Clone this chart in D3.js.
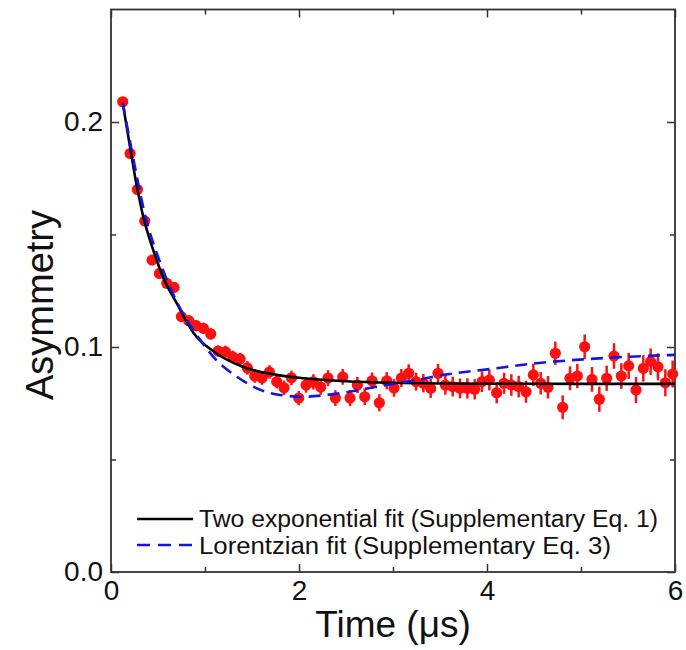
<!DOCTYPE html>
<html><head><meta charset="utf-8">
<script src="https://cdn.jsdelivr.net/npm/d3@7"></script>
<style>body{margin:0;background:#fff}svg{display:block}text{font-family:Arial,"Liberation Sans",sans-serif}</style>
</head><body>
<svg id="c" width="686" height="650"></svg>
<script>
const times = [0.125,0.203,0.281,0.359,0.437,0.515,0.593,0.671,0.749,0.827,0.905,0.983,1.061,1.139,1.217,1.295,1.373,1.451,1.529,1.607,1.685,1.763,1.841,1.919,1.997,2.075,2.153,2.231,2.309,2.387,2.465,2.543,2.621,2.699,2.777,2.855,2.933,3.011,3.089,3.167,3.245,3.323,3.401,3.479,3.557,3.635,3.713,3.791,3.869,3.947,4.025,4.103,4.181,4.259,4.337,4.415,4.493,4.571,4.649,4.727,4.805,4.883,4.961,5.039,5.117,5.195,5.273,5.351,5.429,5.507,5.585,5.663,5.741,5.819,5.897,5.975];
const asymmetry = [0.209,0.186,0.170,0.156,0.1386,0.1327,0.1283,0.1265,0.1135,0.1117,0.1095,0.1083,0.1058,0.0982,0.0979,0.0956,0.0947,0.0907,0.0871,0.0862,0.0889,0.0846,0.0819,0.0863,0.0773,0.0831,0.0845,0.0822,0.0862,0.0773,0.0867,0.0773,0.0831,0.0779,0.0850,0.0752,0.0850,0.0818,0.0862,0.0883,0.0846,0.0839,0.0816,0.0883,0.0831,0.0824,0.0816,0.0816,0.0812,0.0846,0.0853,0.0797,0.0839,0.0831,0.0824,0.0801,0.0876,0.0839,0.0821,0.0972,0.0732,0.0861,0.0871,0.1001,0.0856,0.0768,0.0861,0.0960,0.0871,0.0916,0.0809,0.0905,0.0935,0.0912,0.0841,0.0880];
const errors = [0.0015,0.0015,0.0015,0.0015,0.0018,0.0018,0.0018,0.002,0.002,0.002,0.0025,0.0025,0.0025,0.0025,0.0027,0.0027,0.0027,0.003,0.003,0.003,0.003,0.003,0.0032,0.0032,0.0032,0.0034,0.0034,0.0034,0.0035,0.0035,0.0035,0.0036,0.0036,0.0037,0.0037,0.0038,0.0038,0.0039,0.004,0.004,0.004,0.0041,0.0042,0.0042,0.0043,0.0044,0.0044,0.0045,0.0045,0.0046,0.0046,0.0047,0.0047,0.0048,0.0048,0.0049,0.005,0.005,0.005,0.0052,0.0053,0.0053,0.0054,0.0055,0.0055,0.0056,0.0056,0.0057,0.0057,0.0058,0.0058,0.0059,0.0059,0.006,0.006,0.006];

const expFitT = [0.125,0.2,0.27,0.34,0.45,0.56,0.7,0.88,1.12,1.4,1.76,2.05,2.5,3.0,3.5,4.0,5.0,6.0];
const expFitV = [0.2085,0.1895,0.1725,0.1585,0.1430,0.1305,0.1194,0.1061,0.0972,0.0912,0.0876,0.0861,0.0848,0.0841,0.0838,0.0837,0.0836,0.0836];
const lorFitT = [0.125,0.22,0.36,0.54,0.7,0.95,1.12,1.34,1.55,1.8,2.05,2.3,2.54,2.79,3.04,3.25,3.54,4.03,4.53,5.02,5.52,6.0];
const lorFitV = [0.2085,0.1875,0.159,0.1357,0.1201,0.1031,0.0942,0.0868,0.0816,0.0787,0.0779,0.0787,0.0801,0.0821,0.0839,0.0853,0.0876,0.0902,0.0928,0.0945,0.0957,0.0965];

const xMajor = [0,2,4,6], xMinor = [1,3,5];
const yMajor = [0,0.1,0.2], yMinor = [0.05,0.15];
const legendLabels = ["Two exponential fit (Supplementary Eq. 1)","Lorentzian fit (Supplementary Eq. 3)"];

const svg = d3.select("#c");
const L=111,R=675,T=9.5,B=572;
const x = d3.scaleLinear([0,6],[L,R]);
const y = d3.scaleLinear([0,0.25],[B,T]);
const axisColor="#333";

function axisG(gen, tx, ty){
  const g = svg.append("g").attr("transform",`translate(${tx},${ty})`).call(gen);
  g.select(".domain").remove();
  g.selectAll(".tick line").attr("stroke",axisColor).attr("stroke-width",1.5);
  g.selectAll("text").attr("fill","#111").style("font-size","28px");
  return g;
}
axisG(d3.axisBottom(x).tickValues(xMajor).tickSize(-8).tickPadding(8).tickFormat(d3.format("d")),0,B);
axisG(d3.axisBottom(x).tickValues(xMinor).tickSize(-5).tickFormat(""),0,B);
axisG(d3.axisTop(x).tickValues(xMajor).tickSize(-8).tickFormat(""),0,T);
axisG(d3.axisTop(x).tickValues(xMinor).tickSize(-5).tickFormat(""),0,T);
axisG(d3.axisLeft(y).tickValues(yMajor).tickSize(-8).tickPadding(8).tickFormat(d3.format(".1f")),L,0);
axisG(d3.axisLeft(y).tickValues(yMinor).tickSize(-5).tickFormat(""),L,0);
axisG(d3.axisRight(y).tickValues(yMajor).tickSize(-8).tickFormat(""),R,0);
axisG(d3.axisRight(y).tickValues(yMinor).tickSize(-5).tickFormat(""),R,0);

svg.append("rect").attr("x",L).attr("y",T).attr("width",R-L).attr("height",B-T)
  .attr("fill","none").attr("stroke",axisColor).attr("stroke-width",1.8);

const pts = times.map((t,i)=>({t,v:asymmetry[i],e:errors[i]}));
const gp = svg.append("g");
gp.selectAll("line").data(pts).join("line")
  .attr("x1",d=>x(d.t)).attr("x2",d=>x(d.t))
  .attr("y1",d=>y(d.v-d.e)).attr("y2",d=>y(d.v+d.e))
  .attr("stroke","#ff1010").attr("stroke-width",2.5);
gp.selectAll("circle").data(pts).join("circle")
  .attr("cx",d=>x(d.t)).attr("cy",d=>y(d.v)).attr("r",5.6).attr("fill","#ff1010");

const line = d3.line().x(d=>x(d[0])).y(d=>y(d[1])).curve(d3.curveMonotoneX);
svg.append("path").attr("d",line(expFitT.map((t,i)=>[t,expFitV[i]])))
  .attr("fill","none").attr("stroke","#000").attr("stroke-width",2.6);
svg.append("path").attr("d",line(lorFitT.map((t,i)=>[t,lorFitV[i]])))
  .attr("fill","none").attr("stroke","#1515e0").attr("stroke-width",2.6).attr("stroke-dasharray","12,7");

const lg = svg.append("g");
lg.append("line").attr("x1",137).attr("x2",193).attr("y1",519).attr("y2",519).attr("stroke","#000").attr("stroke-width",2.4);
lg.append("line").attr("x1",137).attr("x2",193).attr("y1",545).attr("y2",545).attr("stroke","#1515e0").attr("stroke-width",2.4).attr("stroke-dasharray","13,8");
const legendWidths = [459, 412];
lg.selectAll("text").data(legendLabels).join("text")
  .attr("x",199).attr("y",(d,i)=>527+i*26.5).style("font-size","23px").attr("fill","#111")
  .attr("textLength",(d,i)=>legendWidths[i]).attr("lengthAdjust","spacingAndGlyphs").text(d=>d);

svg.append("text").attr("x",393).attr("y",637).attr("text-anchor","middle").style("font-size","37px").attr("fill","#111").text("Time (\u03bcs)");
svg.append("text").attr("transform","translate(53,305) rotate(-90)").attr("text-anchor","middle").style("font-size","38px").attr("fill","#111").text("Asymmetry");
</script>
</body></html>
